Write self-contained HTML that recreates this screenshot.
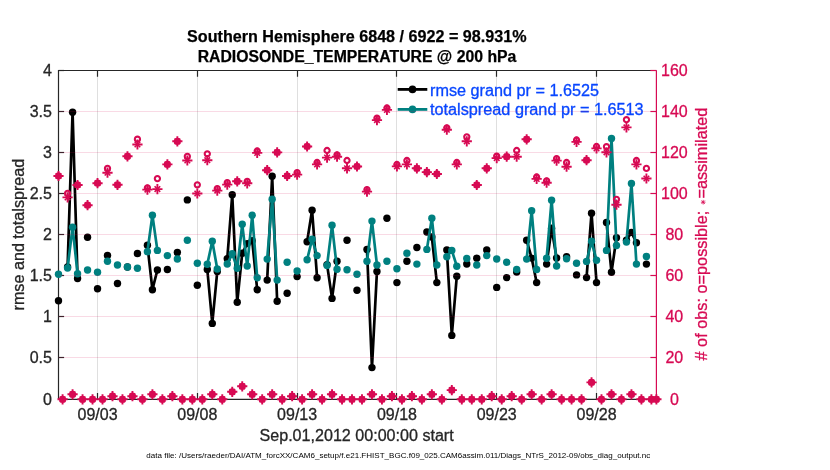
<!DOCTYPE html>
<html><head><meta charset="utf-8"><title>obs diag</title>
<style>
html,body{margin:0;padding:0;background:#fff;}
svg{display:block;will-change:transform;}
text{font-family:"Liberation Sans",sans-serif;}
</style></head><body>
<svg width="830" height="470" viewBox="0 0 830 470">
<rect x="0" y="0" width="830" height="470" fill="#ffffff"/>
<defs>
<g id="ast" stroke="#d70a53" fill="none">
<path stroke-width="1.9" d="M-5.1 0H5.1M0 -5.1V5.1"/><path stroke-width="1.6" d="M-2.8 -2.8L2.8 2.8M-2.8 2.8L2.8 -2.8"/></g>
<circle id="oo" r="2.6" stroke="#d70a53" stroke-width="2.1" fill="none"/>
</defs>
<g stroke="#262626" stroke-opacity="0.15" stroke-width="1">
<line x1="97.5" y1="70.5" x2="97.5" y2="399.3"/>
<line x1="197.5" y1="70.5" x2="197.5" y2="399.3"/>
<line x1="297.5" y1="70.5" x2="297.5" y2="399.3"/>
<line x1="396.5" y1="70.5" x2="396.5" y2="399.3"/>
<line x1="496.5" y1="70.5" x2="496.5" y2="399.3"/>
<line x1="596.5" y1="70.5" x2="596.5" y2="399.3"/>
</g>
<g stroke="#262626" stroke-width="1.2" fill="none">
<path d="M58.5 399.3V70.5H656.4M58.5 399.3H656.4"/>
<path d="M97.5 399.3v-6.3M97.5 70.5v6.3"/>
<path d="M197.5 399.3v-6.3M197.5 70.5v6.3"/>
<path d="M297.5 399.3v-6.3M297.5 70.5v6.3"/>
<path d="M396.5 399.3v-6.3M396.5 70.5v6.3"/>
<path d="M496.5 399.3v-6.3M496.5 70.5v6.3"/>
<path d="M596.5 399.3v-6.3M596.5 70.5v6.3"/>
<path d="M58.5 399.30h5.6"/>
<path d="M58.5 357.50h5.6"/>
<path d="M58.5 316.50h5.6"/>
<path d="M58.5 275.50h5.6"/>
<path d="M58.5 234.50h5.6"/>
<path d="M58.5 193.50h5.6"/>
<path d="M58.5 152.50h5.6"/>
<path d="M58.5 111.50h5.6"/>
<path d="M58.5 70.50h5.6"/>
</g>
<path d="M67.58 267.0L72.57 112.3L77.56 278.5M147.42 245.2L152.41 289.7L157.40 270.0M207.30 269.5L212.29 323.4L217.28 271.4M227.26 258.8L232.25 194.8L237.24 302.2L242.23 253.3L247.22 243.6L252.21 240.7L257.20 289.7M267.18 280.1L272.17 176.3L277.16 301.3M307.10 241.7L312.09 210.3L317.08 277.7M327.06 264.6L332.05 298.4L337.04 261.2M366.98 249.4L371.97 367.6L376.96 271.4M426.86 232.0L431.85 237.0L436.84 282.6M446.82 250.0L451.81 335.4L456.80 276.2M526.66 240.3L531.65 258.1L536.64 282.6M546.62 264.1L551.61 228.2L556.60 258.0M586.54 277.6L591.53 213.2L596.52 282.6M606.50 222.4L611.49 272.3L616.48 237.8M626.46 240.3L631.45 232.4L636.44 242.7" stroke="#000000" stroke-width="2.7" fill="none" stroke-linejoin="round" stroke-linecap="butt"/>
<g fill="#000000">
<circle cx="58.50" cy="300.7" r="3.7"/>
<circle cx="67.58" cy="267.0" r="3.7"/>
<circle cx="72.57" cy="112.3" r="3.7"/>
<circle cx="77.56" cy="278.5" r="3.7"/>
<circle cx="87.54" cy="237.3" r="3.7"/>
<circle cx="97.52" cy="288.7" r="3.7"/>
<circle cx="107.50" cy="255.5" r="3.7"/>
<circle cx="117.48" cy="283.5" r="3.7"/>
<circle cx="127.46" cy="267.0" r="3.7"/>
<circle cx="137.44" cy="253.5" r="3.7"/>
<circle cx="147.42" cy="245.2" r="3.7"/>
<circle cx="152.41" cy="289.7" r="3.7"/>
<circle cx="157.40" cy="270.0" r="3.7"/>
<circle cx="167.38" cy="269.5" r="3.7"/>
<circle cx="177.36" cy="252.5" r="3.7"/>
<circle cx="187.34" cy="199.9" r="3.7"/>
<circle cx="197.32" cy="285.3" r="3.7"/>
<circle cx="207.30" cy="269.5" r="3.7"/>
<circle cx="212.29" cy="323.4" r="3.7"/>
<circle cx="217.28" cy="271.4" r="3.7"/>
<circle cx="227.26" cy="258.8" r="3.7"/>
<circle cx="232.25" cy="194.8" r="3.7"/>
<circle cx="237.24" cy="302.2" r="3.7"/>
<circle cx="242.23" cy="253.3" r="3.7"/>
<circle cx="247.22" cy="243.6" r="3.7"/>
<circle cx="252.21" cy="240.7" r="3.7"/>
<circle cx="257.20" cy="289.7" r="3.7"/>
<circle cx="267.18" cy="280.1" r="3.7"/>
<circle cx="272.17" cy="176.3" r="3.7"/>
<circle cx="277.16" cy="301.3" r="3.7"/>
<circle cx="287.14" cy="293.2" r="3.7"/>
<circle cx="297.12" cy="276.6" r="3.7"/>
<circle cx="307.10" cy="241.7" r="3.7"/>
<circle cx="312.09" cy="210.3" r="3.7"/>
<circle cx="317.08" cy="277.7" r="3.7"/>
<circle cx="327.06" cy="264.6" r="3.7"/>
<circle cx="332.05" cy="298.4" r="3.7"/>
<circle cx="337.04" cy="261.2" r="3.7"/>
<circle cx="347.02" cy="240.3" r="3.7"/>
<circle cx="357.00" cy="290.3" r="3.7"/>
<circle cx="366.98" cy="249.4" r="3.7"/>
<circle cx="371.97" cy="367.6" r="3.7"/>
<circle cx="376.96" cy="271.4" r="3.7"/>
<circle cx="386.94" cy="218.2" r="3.7"/>
<circle cx="396.92" cy="282.6" r="3.7"/>
<circle cx="406.90" cy="261.2" r="3.7"/>
<circle cx="416.88" cy="247.5" r="3.7"/>
<circle cx="426.86" cy="232.0" r="3.7"/>
<circle cx="431.85" cy="237.0" r="3.7"/>
<circle cx="436.84" cy="282.6" r="3.7"/>
<circle cx="446.82" cy="250.0" r="3.7"/>
<circle cx="451.81" cy="335.4" r="3.7"/>
<circle cx="456.80" cy="276.2" r="3.7"/>
<circle cx="466.78" cy="264.0" r="3.7"/>
<circle cx="476.76" cy="258.2" r="3.7"/>
<circle cx="486.74" cy="250.0" r="3.7"/>
<circle cx="496.72" cy="287.4" r="3.7"/>
<circle cx="506.70" cy="277.6" r="3.7"/>
<circle cx="516.68" cy="272.0" r="3.7"/>
<circle cx="526.66" cy="240.3" r="3.7"/>
<circle cx="531.65" cy="258.1" r="3.7"/>
<circle cx="536.64" cy="282.6" r="3.7"/>
<circle cx="546.62" cy="264.1" r="3.7"/>
<circle cx="551.61" cy="228.2" r="3.7"/>
<circle cx="556.60" cy="258.0" r="3.7"/>
<circle cx="566.58" cy="256.8" r="3.7"/>
<circle cx="576.56" cy="274.9" r="3.7"/>
<circle cx="586.54" cy="277.6" r="3.7"/>
<circle cx="591.53" cy="213.2" r="3.7"/>
<circle cx="596.52" cy="282.6" r="3.7"/>
<circle cx="606.50" cy="222.4" r="3.7"/>
<circle cx="611.49" cy="272.3" r="3.7"/>
<circle cx="616.48" cy="237.8" r="3.7"/>
<circle cx="626.46" cy="240.3" r="3.7"/>
<circle cx="631.45" cy="232.4" r="3.7"/>
<circle cx="636.44" cy="242.7" r="3.7"/>
<circle cx="646.42" cy="264.1" r="3.7"/>
</g>
<path d="M67.58 268.0L72.57 227.2L77.56 273.7M147.42 251.7L152.41 215.3L157.40 250.4M207.30 264.2L212.29 241.3L217.28 269.0M227.26 264.0L232.25 253.8L237.24 268.3L242.23 224.3L247.22 266.0L252.21 215.3L257.20 277.7M267.18 259.1L272.17 199.3L277.16 280.1M307.10 259.8L312.09 239.2L317.08 255.6M327.06 265.4L332.05 225.3L337.04 269.3M366.98 261.3L371.97 221.1L376.96 265.0M426.86 249.4L431.85 218.2L436.84 265.0M446.82 256.7L451.81 250.4L456.80 266.2M526.66 259.1L531.65 210.8L536.64 269.5M546.62 258.2L551.61 200.2L556.60 266.0M586.54 261.4L591.53 241.3L596.52 260.2M606.50 250.4L611.49 138.4L616.48 245.5M626.46 242.1L631.45 183.5L636.44 264.1" stroke="#008080" stroke-width="2.7" fill="none" stroke-linejoin="round" stroke-linecap="butt"/>
<g fill="#008080">
<circle cx="58.50" cy="274.3" r="3.7"/>
<circle cx="67.58" cy="268.0" r="3.7"/>
<circle cx="72.57" cy="227.2" r="3.7"/>
<circle cx="77.56" cy="273.7" r="3.7"/>
<circle cx="87.54" cy="270.0" r="3.7"/>
<circle cx="97.52" cy="272.3" r="3.7"/>
<circle cx="107.50" cy="261.2" r="3.7"/>
<circle cx="117.48" cy="265.0" r="3.7"/>
<circle cx="127.46" cy="267.0" r="3.7"/>
<circle cx="137.44" cy="268.2" r="3.7"/>
<circle cx="147.42" cy="251.7" r="3.7"/>
<circle cx="152.41" cy="215.3" r="3.7"/>
<circle cx="157.40" cy="250.4" r="3.7"/>
<circle cx="167.38" cy="255.6" r="3.7"/>
<circle cx="177.36" cy="259.0" r="3.7"/>
<circle cx="187.34" cy="240.3" r="3.7"/>
<circle cx="197.32" cy="263.3" r="3.7"/>
<circle cx="207.30" cy="264.2" r="3.7"/>
<circle cx="212.29" cy="241.3" r="3.7"/>
<circle cx="217.28" cy="269.0" r="3.7"/>
<circle cx="227.26" cy="264.0" r="3.7"/>
<circle cx="232.25" cy="253.8" r="3.7"/>
<circle cx="237.24" cy="268.3" r="3.7"/>
<circle cx="242.23" cy="224.3" r="3.7"/>
<circle cx="247.22" cy="266.0" r="3.7"/>
<circle cx="252.21" cy="215.3" r="3.7"/>
<circle cx="257.20" cy="277.7" r="3.7"/>
<circle cx="267.18" cy="259.1" r="3.7"/>
<circle cx="272.17" cy="199.3" r="3.7"/>
<circle cx="277.16" cy="280.1" r="3.7"/>
<circle cx="287.14" cy="262.3" r="3.7"/>
<circle cx="297.12" cy="271.0" r="3.7"/>
<circle cx="307.10" cy="259.8" r="3.7"/>
<circle cx="312.09" cy="239.2" r="3.7"/>
<circle cx="317.08" cy="255.6" r="3.7"/>
<circle cx="327.06" cy="265.4" r="3.7"/>
<circle cx="332.05" cy="225.3" r="3.7"/>
<circle cx="337.04" cy="269.3" r="3.7"/>
<circle cx="347.02" cy="269.8" r="3.7"/>
<circle cx="357.00" cy="274.3" r="3.7"/>
<circle cx="366.98" cy="261.3" r="3.7"/>
<circle cx="371.97" cy="221.1" r="3.7"/>
<circle cx="376.96" cy="265.0" r="3.7"/>
<circle cx="386.94" cy="261.3" r="3.7"/>
<circle cx="396.92" cy="268.8" r="3.7"/>
<circle cx="406.90" cy="253.3" r="3.7"/>
<circle cx="416.88" cy="264.1" r="3.7"/>
<circle cx="426.86" cy="249.4" r="3.7"/>
<circle cx="431.85" cy="218.2" r="3.7"/>
<circle cx="436.84" cy="265.0" r="3.7"/>
<circle cx="446.82" cy="256.7" r="3.7"/>
<circle cx="451.81" cy="250.4" r="3.7"/>
<circle cx="456.80" cy="266.2" r="3.7"/>
<circle cx="466.78" cy="258.5" r="3.7"/>
<circle cx="476.76" cy="265.0" r="3.7"/>
<circle cx="486.74" cy="255.6" r="3.7"/>
<circle cx="496.72" cy="259.0" r="3.7"/>
<circle cx="506.70" cy="262.3" r="3.7"/>
<circle cx="516.68" cy="269.5" r="3.7"/>
<circle cx="526.66" cy="259.1" r="3.7"/>
<circle cx="531.65" cy="210.8" r="3.7"/>
<circle cx="536.64" cy="269.5" r="3.7"/>
<circle cx="546.62" cy="258.2" r="3.7"/>
<circle cx="551.61" cy="200.2" r="3.7"/>
<circle cx="556.60" cy="266.0" r="3.7"/>
<circle cx="566.58" cy="258.7" r="3.7"/>
<circle cx="576.56" cy="263.2" r="3.7"/>
<circle cx="586.54" cy="261.4" r="3.7"/>
<circle cx="591.53" cy="241.3" r="3.7"/>
<circle cx="596.52" cy="260.2" r="3.7"/>
<circle cx="606.50" cy="250.4" r="3.7"/>
<circle cx="611.49" cy="138.4" r="3.7"/>
<circle cx="616.48" cy="245.5" r="3.7"/>
<circle cx="626.46" cy="242.1" r="3.7"/>
<circle cx="631.45" cy="183.5" r="3.7"/>
<circle cx="636.44" cy="264.1" r="3.7"/>
<circle cx="646.42" cy="256.5" r="3.7"/>
</g>
<path d="M397.7 89.4H427.3" stroke="#000" stroke-width="2.8"/><circle cx="412.5" cy="89.4" r="3.8" fill="#000"/>
<path d="M397.7 109.4H427.3" stroke="#008080" stroke-width="2.8"/><circle cx="412.5" cy="109.4" r="3.8" fill="#008080"/>
<text x="430" y="96.3" font-size="16" fill="#0846ff" stroke="#0846ff" stroke-width="0.3" textLength="169" lengthAdjust="spacingAndGlyphs">rmse grand pr = 1.6525</text>
<text x="430" y="115.3" font-size="16" fill="#0846ff" stroke="#0846ff" stroke-width="0.3" textLength="213.6" lengthAdjust="spacingAndGlyphs">totalspread grand pr = 1.6513</text>
<g stroke="#d70a53" stroke-opacity="0.15" stroke-width="1">
<line x1="58.5" y1="357.50" x2="656.4" y2="357.50"/>
<line x1="58.5" y1="316.50" x2="656.4" y2="316.50"/>
<line x1="58.5" y1="275.50" x2="656.4" y2="275.50"/>
<line x1="58.5" y1="234.50" x2="656.4" y2="234.50"/>
<line x1="58.5" y1="193.50" x2="656.4" y2="193.50"/>
<line x1="58.5" y1="152.50" x2="656.4" y2="152.50"/>
<line x1="58.5" y1="111.50" x2="656.4" y2="111.50"/>
</g>
<g>
<use href="#oo" x="58.50" y="176.0"/><use href="#ast" x="58.50" y="176.0"/>
<use href="#oo" x="62.59" y="399.3"/><use href="#ast" x="62.59" y="399.3"/>
<use href="#oo" x="67.58" y="193.3"/><use href="#ast" x="67.58" y="197.4"/>
<use href="#oo" x="72.57" y="394.3"/><use href="#ast" x="72.57" y="394.3"/>
<use href="#oo" x="77.56" y="185.0"/><use href="#ast" x="77.56" y="185.0"/>
<use href="#oo" x="82.55" y="399.3"/><use href="#ast" x="82.55" y="399.3"/>
<use href="#oo" x="87.54" y="205.2"/><use href="#ast" x="87.54" y="205.2"/>
<use href="#oo" x="92.53" y="399.3"/><use href="#ast" x="92.53" y="399.3"/>
<use href="#oo" x="97.52" y="183.2"/><use href="#ast" x="97.52" y="183.2"/>
<use href="#oo" x="102.51" y="399.3"/><use href="#ast" x="102.51" y="399.3"/>
<use href="#oo" x="107.50" y="168.3"/><use href="#ast" x="107.50" y="172.7"/>
<use href="#oo" x="112.49" y="396.2"/><use href="#ast" x="112.49" y="396.2"/>
<use href="#oo" x="117.48" y="184.8"/><use href="#ast" x="117.48" y="184.8"/>
<use href="#oo" x="122.47" y="399.3"/><use href="#ast" x="122.47" y="399.3"/>
<use href="#oo" x="127.46" y="156.3"/><use href="#ast" x="127.46" y="156.3"/>
<use href="#oo" x="132.45" y="396.2"/><use href="#ast" x="132.45" y="396.2"/>
<use href="#oo" x="137.44" y="139.2"/><use href="#ast" x="137.44" y="144.5"/>
<use href="#oo" x="142.43" y="399.3"/><use href="#ast" x="142.43" y="399.3"/>
<use href="#oo" x="147.42" y="187.8"/><use href="#ast" x="147.42" y="189.6"/>
<use href="#oo" x="152.41" y="394.3"/><use href="#ast" x="152.41" y="394.3"/>
<use href="#oo" x="157.40" y="178.6"/><use href="#ast" x="157.40" y="189.1"/>
<use href="#oo" x="162.39" y="399.3"/><use href="#ast" x="162.39" y="399.3"/>
<use href="#oo" x="167.38" y="164.4"/><use href="#ast" x="167.38" y="164.4"/>
<use href="#oo" x="172.37" y="396.2"/><use href="#ast" x="172.37" y="396.2"/>
<use href="#oo" x="177.36" y="141.3"/><use href="#ast" x="177.36" y="141.3"/>
<use href="#oo" x="182.35" y="399.3"/><use href="#ast" x="182.35" y="399.3"/>
<use href="#oo" x="187.34" y="156.3"/><use href="#ast" x="187.34" y="160.5"/>
<use href="#oo" x="192.33" y="399.3"/><use href="#ast" x="192.33" y="399.3"/>
<use href="#oo" x="197.32" y="184.8"/><use href="#ast" x="197.32" y="193.5"/>
<use href="#oo" x="202.31" y="399.3"/><use href="#ast" x="202.31" y="399.3"/>
<use href="#oo" x="207.30" y="153.8"/><use href="#ast" x="207.30" y="160.2"/>
<use href="#oo" x="212.29" y="394.3"/><use href="#ast" x="212.29" y="394.3"/>
<use href="#oo" x="217.28" y="188.7"/><use href="#ast" x="217.28" y="190.6"/>
<use href="#oo" x="222.27" y="399.3"/><use href="#ast" x="222.27" y="399.3"/>
<use href="#oo" x="227.26" y="182.7"/><use href="#ast" x="227.26" y="184.6"/>
<use href="#oo" x="232.25" y="391.8"/><use href="#ast" x="232.25" y="391.8"/>
<use href="#oo" x="237.24" y="181.3"/><use href="#ast" x="237.24" y="181.3"/>
<use href="#oo" x="242.23" y="386.3"/><use href="#ast" x="242.23" y="386.3"/>
<use href="#oo" x="247.22" y="181.4"/><use href="#ast" x="247.22" y="183.3"/>
<use href="#oo" x="252.21" y="394.3"/><use href="#ast" x="252.21" y="394.3"/>
<use href="#oo" x="257.20" y="151.0"/><use href="#ast" x="257.20" y="152.9"/>
<use href="#oo" x="262.19" y="399.3"/><use href="#ast" x="262.19" y="399.3"/>
<use href="#oo" x="267.18" y="170.2"/><use href="#ast" x="267.18" y="170.2"/>
<use href="#oo" x="272.17" y="394.3"/><use href="#ast" x="272.17" y="394.3"/>
<use href="#oo" x="277.16" y="152.4"/><use href="#ast" x="277.16" y="152.4"/>
<use href="#oo" x="282.15" y="399.3"/><use href="#ast" x="282.15" y="399.3"/>
<use href="#oo" x="287.14" y="176.0"/><use href="#ast" x="287.14" y="176.0"/>
<use href="#oo" x="292.13" y="396.2"/><use href="#ast" x="292.13" y="396.2"/>
<use href="#oo" x="297.12" y="172.7"/><use href="#ast" x="297.12" y="174.6"/>
<use href="#oo" x="302.11" y="399.3"/><use href="#ast" x="302.11" y="399.3"/>
<use href="#oo" x="307.10" y="146.5"/><use href="#ast" x="307.10" y="146.5"/>
<use href="#oo" x="312.09" y="394.3"/><use href="#ast" x="312.09" y="394.3"/>
<use href="#oo" x="317.08" y="162.5"/><use href="#ast" x="317.08" y="164.4"/>
<use href="#oo" x="322.07" y="399.3"/><use href="#ast" x="322.07" y="399.3"/>
<use href="#oo" x="327.06" y="150.5"/><use href="#ast" x="327.06" y="157.6"/>
<use href="#oo" x="332.05" y="394.3"/><use href="#ast" x="332.05" y="394.3"/>
<use href="#oo" x="337.04" y="154.8"/><use href="#ast" x="337.04" y="156.7"/>
<use href="#oo" x="342.03" y="399.3"/><use href="#ast" x="342.03" y="399.3"/>
<use href="#oo" x="347.02" y="160.5"/><use href="#ast" x="347.02" y="168.3"/>
<use href="#oo" x="352.01" y="399.3"/><use href="#ast" x="352.01" y="399.3"/>
<use href="#oo" x="357.00" y="166.5"/><use href="#ast" x="357.00" y="166.5"/>
<use href="#oo" x="361.99" y="399.3"/><use href="#ast" x="361.99" y="399.3"/>
<use href="#oo" x="366.98" y="189.7"/><use href="#ast" x="366.98" y="191.6"/>
<use href="#oo" x="371.97" y="394.3"/><use href="#ast" x="371.97" y="394.3"/>
<use href="#oo" x="376.96" y="118.2"/><use href="#ast" x="376.96" y="120.1"/>
<use href="#oo" x="381.95" y="399.3"/><use href="#ast" x="381.95" y="399.3"/>
<use href="#oo" x="386.94" y="108.0"/><use href="#ast" x="386.94" y="109.9"/>
<use href="#oo" x="391.93" y="396.2"/><use href="#ast" x="391.93" y="396.2"/>
<use href="#oo" x="396.92" y="164.5"/><use href="#ast" x="396.92" y="166.4"/>
<use href="#oo" x="401.91" y="399.3"/><use href="#ast" x="401.91" y="399.3"/>
<use href="#oo" x="406.90" y="160.5"/><use href="#ast" x="406.90" y="164.4"/>
<use href="#oo" x="411.89" y="396.2"/><use href="#ast" x="411.89" y="396.2"/>
<use href="#oo" x="416.88" y="168.3"/><use href="#ast" x="416.88" y="168.3"/>
<use href="#oo" x="421.87" y="399.3"/><use href="#ast" x="421.87" y="399.3"/>
<use href="#oo" x="426.86" y="172.1"/><use href="#ast" x="426.86" y="172.1"/>
<use href="#oo" x="431.85" y="394.3"/><use href="#ast" x="431.85" y="394.3"/>
<use href="#oo" x="436.84" y="174.0"/><use href="#ast" x="436.84" y="174.0"/>
<use href="#oo" x="441.83" y="399.3"/><use href="#ast" x="441.83" y="399.3"/>
<use href="#oo" x="446.82" y="127.8"/><use href="#ast" x="446.82" y="129.7"/>
<use href="#oo" x="451.81" y="390.1"/><use href="#ast" x="451.81" y="390.1"/>
<use href="#oo" x="456.80" y="162.5"/><use href="#ast" x="456.80" y="164.4"/>
<use href="#oo" x="461.79" y="399.3"/><use href="#ast" x="461.79" y="399.3"/>
<use href="#oo" x="466.78" y="136.8"/><use href="#ast" x="466.78" y="141.3"/>
<use href="#oo" x="471.77" y="399.3"/><use href="#ast" x="471.77" y="399.3"/>
<use href="#oo" x="476.76" y="185.0"/><use href="#ast" x="476.76" y="185.0"/>
<use href="#oo" x="481.75" y="399.3"/><use href="#ast" x="481.75" y="399.3"/>
<use href="#oo" x="486.74" y="168.3"/><use href="#ast" x="486.74" y="168.3"/>
<use href="#oo" x="491.73" y="396.2"/><use href="#ast" x="491.73" y="396.2"/>
<use href="#oo" x="496.72" y="156.2"/><use href="#ast" x="496.72" y="158.1"/>
<use href="#oo" x="501.71" y="399.3"/><use href="#ast" x="501.71" y="399.3"/>
<use href="#oo" x="506.70" y="156.7"/><use href="#ast" x="506.70" y="156.7"/>
<use href="#oo" x="511.69" y="396.2"/><use href="#ast" x="511.69" y="396.2"/>
<use href="#oo" x="516.68" y="150.5"/><use href="#ast" x="516.68" y="156.7"/>
<use href="#oo" x="521.67" y="399.3"/><use href="#ast" x="521.67" y="399.3"/>
<use href="#oo" x="526.66" y="139.3"/><use href="#ast" x="526.66" y="139.3"/>
<use href="#oo" x="531.65" y="394.3"/><use href="#ast" x="531.65" y="394.3"/>
<use href="#oo" x="536.64" y="177.0"/><use href="#ast" x="536.64" y="178.9"/>
<use href="#oo" x="541.63" y="399.3"/><use href="#ast" x="541.63" y="399.3"/>
<use href="#oo" x="546.62" y="180.8"/><use href="#ast" x="546.62" y="182.7"/>
<use href="#oo" x="551.61" y="394.3"/><use href="#ast" x="551.61" y="394.3"/>
<use href="#oo" x="556.60" y="158.7"/><use href="#ast" x="556.60" y="160.6"/>
<use href="#oo" x="561.59" y="399.3"/><use href="#ast" x="561.59" y="399.3"/>
<use href="#oo" x="566.58" y="162.5"/><use href="#ast" x="566.58" y="166.7"/>
<use href="#oo" x="571.57" y="399.3"/><use href="#ast" x="571.57" y="399.3"/>
<use href="#oo" x="576.56" y="140.0"/><use href="#ast" x="576.56" y="141.9"/>
<use href="#oo" x="581.55" y="399.3"/><use href="#ast" x="581.55" y="399.3"/>
<use href="#oo" x="586.54" y="160.2"/><use href="#ast" x="586.54" y="160.2"/>
<use href="#oo" x="591.53" y="382.4"/><use href="#ast" x="591.53" y="382.4"/>
<use href="#oo" x="596.52" y="146.5"/><use href="#ast" x="596.52" y="148.4"/>
<use href="#oo" x="601.51" y="399.3"/><use href="#ast" x="601.51" y="399.3"/>
<use href="#oo" x="606.50" y="146.7"/><use href="#ast" x="606.50" y="152.3"/>
<use href="#oo" x="611.49" y="394.3"/><use href="#ast" x="611.49" y="394.3"/>
<use href="#oo" x="616.48" y="199.3"/><use href="#ast" x="616.48" y="204.7"/>
<use href="#oo" x="621.47" y="399.3"/><use href="#ast" x="621.47" y="399.3"/>
<use href="#oo" x="626.46" y="119.7"/><use href="#ast" x="626.46" y="127.4"/>
<use href="#oo" x="631.45" y="394.3"/><use href="#ast" x="631.45" y="394.3"/>
<use href="#oo" x="636.44" y="160.5"/><use href="#ast" x="636.44" y="164.4"/>
<use href="#oo" x="641.43" y="399.3"/><use href="#ast" x="641.43" y="399.3"/>
<use href="#oo" x="646.42" y="168.4"/><use href="#ast" x="646.42" y="178.5"/>
<use href="#oo" x="651.41" y="399.3"/><use href="#ast" x="651.41" y="399.3"/>
<use href="#oo" x="656.40" y="399.3"/><use href="#ast" x="656.40" y="399.3"/>
</g>
<g stroke="#d70a53" stroke-width="1.2" fill="none">
<path d="M656.4 399.3V70.5"/>
<path d="M656.4 399.30h-6"/>
<path d="M656.4 357.50h-6"/>
<path d="M656.4 316.50h-6"/>
<path d="M656.4 275.50h-6"/>
<path d="M656.4 234.50h-6"/>
<path d="M656.4 193.50h-6"/>
<path d="M656.4 152.50h-6"/>
<path d="M656.4 111.50h-6"/>
<path d="M656.4 70.50h-6"/>
</g>
<g font-size="16" fill="#262626" stroke="#262626" stroke-width="0.3">
<text x="51.9" y="405.0" text-anchor="end">0</text>
<text x="51.9" y="363.2" text-anchor="end">0.5</text>
<text x="51.9" y="322.2" text-anchor="end">1</text>
<text x="51.9" y="281.2" text-anchor="end">1.5</text>
<text x="51.9" y="240.2" text-anchor="end">2</text>
<text x="51.9" y="199.2" text-anchor="end">2.5</text>
<text x="51.9" y="158.2" text-anchor="end">3</text>
<text x="51.9" y="117.2" text-anchor="end">3.5</text>
<text x="51.9" y="76.2" text-anchor="end">4</text>
<text x="97.52" y="420.1" text-anchor="middle">09/03</text>
<text x="197.32" y="420.1" text-anchor="middle">09/08</text>
<text x="297.12" y="420.1" text-anchor="middle">09/13</text>
<text x="396.92" y="420.1" text-anchor="middle">09/18</text>
<text x="496.72" y="420.1" text-anchor="middle">09/23</text>
<text x="596.52" y="420.1" text-anchor="middle">09/28</text>
<text x="356.6" y="441" text-anchor="middle" textLength="194.2" lengthAdjust="spacingAndGlyphs">Sep.01,2012 00:00:00 start</text>
<text transform="translate(23.6 234.6) rotate(-90)" text-anchor="middle" textLength="151.8" lengthAdjust="spacingAndGlyphs">rmse and totalspread</text>
</g>
<g font-size="16" fill="#d70a53" stroke="#d70a53" stroke-width="0.3">
<text x="661" y="405.0" xml:space="preserve">  0</text>
<text x="661" y="363.2" xml:space="preserve"> 20</text>
<text x="661" y="322.2" xml:space="preserve"> 40</text>
<text x="661" y="281.2" xml:space="preserve"> 60</text>
<text x="661" y="240.2" xml:space="preserve"> 80</text>
<text x="661" y="199.2" xml:space="preserve">100</text>
<text x="661" y="158.2" xml:space="preserve">120</text>
<text x="661" y="117.2" xml:space="preserve">140</text>
<text x="661" y="76.2" xml:space="preserve">160</text>
<g transform="translate(707.2 360.5) rotate(-90)" font-size="16.3"><text x="0" y="0" xml:space="preserve"># of obs: o=possible; </text><path d="M156 -4h4.6M158.3 -6.3v4.6M156.6 -5.7l3.4 3.4M156.6 -2.3l3.4 -3.4" stroke="#d70a53" stroke-width="0.8" fill="none"/><text x="161.9" y="0">=assimilated</text></g>
</g>
<g font-size="16" font-weight="bold" fill="#000" stroke="#000" stroke-width="0.25" text-anchor="middle">
<text x="356.8" y="41.5" textLength="339.4" lengthAdjust="spacingAndGlyphs">Southern Hemisphere 6848 / 6922 = 98.931%</text>
<text x="357" y="61.7" textLength="318.7" lengthAdjust="spacingAndGlyphs">RADIOSONDE_TEMPERATURE @ 200 hPa</text>
</g>
<text x="146.3" y="458" font-size="8" fill="#000" textLength="504" lengthAdjust="spacingAndGlyphs">data file: /Users/raeder/DAI/ATM_forcXX/CAM6_setup/f.e21.FHIST_BGC.f09_025.CAM6assim.011/Diags_NTrS_2012-09/obs_diag_output.nc</text>
</svg></body></html>
